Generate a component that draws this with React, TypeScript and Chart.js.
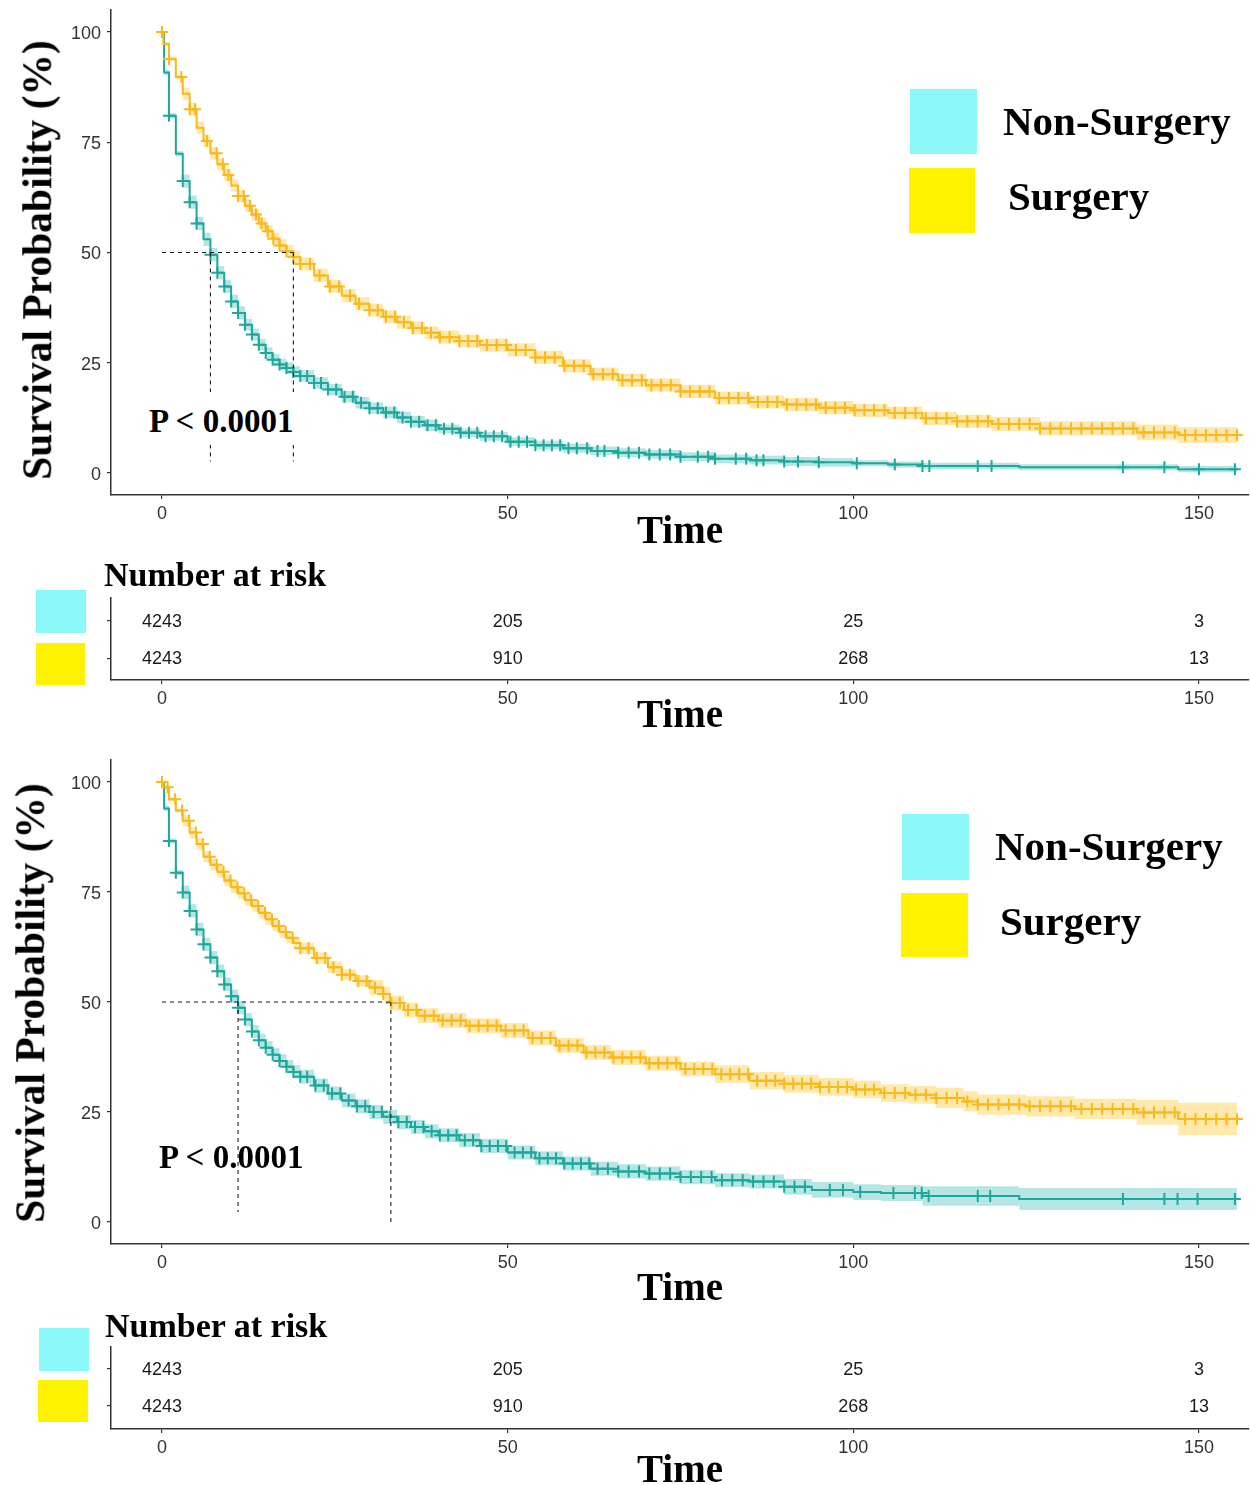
import React, { useEffect, useRef } from "react";
import { Chart, registerables } from "chart.js";

Chart.register(...registerables);

// ---------------- data ----------------
const X_TICKS = [0, 50, 100, 150];
const Y_TICKS = [0, 25, 50, 75, 100];
const GROUP_LABELS = ["Non-Surgery", "Surgery"];
const P_TEXT = "P < 0.0001";
const Y_TITLE = "Survival Probability (%)";
const RISK_TITLE = "Number at risk";
const RISK_TIMES = [0, 50, 100, 150];
const RISK_NON_SURGERY = [4243, 205, 25, 3];
const RISK_SURGERY = [4243, 910, 268, 13];

// Panel A (top)
const A_NS_TIME = [0, 0.3, 1, 2, 3, 4, 5, 6, 7, 8, 9, 10, 11, 12, 13, 14, 15, 16, 17, 18, 19, 20, 22, 24, 26, 28, 30, 32, 34, 36, 38, 40, 43, 46, 50, 54, 58, 62, 66, 70, 75, 80, 85, 90, 95, 100, 105, 110, 124, 147, 155.5];
const A_NS_SURV = [100, 90.8, 81.0, 72.4, 66.2, 61.4, 56.6, 53.0, 49.5, 45.4, 42.3, 38.9, 36.3, 33.6, 31.4, 29.1, 27.2, 25.7, 24.6, 23.8, 22.9, 22.0, 20.4, 18.9, 17.3, 15.9, 14.7, 13.7, 12.6, 11.6, 10.8, 10.0, 9.1, 8.3, 7.1, 6.3, 5.6, 5.0, 4.6, 4.2, 3.7, 3.2, 2.9, 2.6, 2.4, 2.2, 1.9, 1.6, 1.3, 0.85, 0.85];
const A_NS_CI_TIME = [0, 3, 12, 40, 100];
const A_NS_CI_HALF = [0.6, 1.5, 1.3, 1.0, 0.7];
const A_NS_CENSOR = [0, 1, 3, 4, 5, 7, 8, 9, 10, 11, 12, 13, 14, 15, 16, 17, 18, 19, 20, 21, 22, 23, 24, 25.2, 26.4, 27.6, 28.8, 30, 31.2, 32.4, 33.6, 34.8, 36, 37.2, 38.4, 39.6, 40.8, 42, 43.2, 44.4, 45.6, 46.8, 48, 49.2, 50.4, 51.6, 52.8, 54, 55.2, 56.4, 57.6, 58.8, 60, 61.5, 63, 64, 66, 67.5, 69, 70.5, 72, 73.5, 75, 77.5, 79, 80, 83, 84.5, 86, 87, 90, 92, 95, 100.5, 106, 110, 111, 118, 120, 139, 145, 150, 155.2];

const A_S_TIME = [0, 0.2, 1, 2, 3, 4, 5, 6, 7, 8, 9, 10, 11, 12, 13, 14, 15, 16, 17, 18, 19, 20, 22, 24, 26, 28, 30, 32, 34, 36, 38, 40, 43, 46, 50, 54, 58, 62, 66, 70, 75, 80, 85, 90, 95, 100, 105, 110, 115, 120, 127, 141, 147, 155.5];
const A_S_SURV = [100, 97.3, 93.9, 89.8, 86.0, 82.5, 78.3, 75.3, 72.5, 70.0, 67.6, 65.2, 62.8, 60.6, 58.6, 56.6, 54.8, 53.1, 51.6, 50.3, 49.0, 47.4, 44.8, 42.3, 40.2, 38.4, 36.9, 35.4, 34.2, 32.9, 31.8, 30.8, 29.9, 29.0, 27.9, 26.2, 24.3, 22.4, 21.0, 19.9, 18.5, 17.0, 16.1, 15.5, 14.8, 14.2, 13.6, 12.4, 11.7, 11.1, 10.1, 9.2, 8.6, 8.6];
const A_S_CI_TIME = [0, 3, 20, 60, 120, 141];
const A_S_CI_HALF = [0.5, 1.4, 1.5, 1.5, 1.6, 1.8];
const A_S_CENSOR = [0, 1, 2.8, 4, 4.8, 6.5, 7.9, 8.8, 9.6, 11, 11.8, 12.7, 13.6, 14.4, 15.3, 16.1, 17, 18, 19, 20, 21.4, 22.8, 24.3, 25.6, 27.2, 28.5, 30, 31.2, 32.4, 33.7, 35, 36.3, 37.6, 38.9, 40.2, 41.6, 43, 44.3, 45.6, 47, 48.4, 49.8, 51.2, 52.6, 54, 55.4, 56.8, 58.2, 59.6, 61, 62.4, 63.8, 65.2, 66.6, 68, 69.4, 70.8, 72.2, 73.6, 75, 76.4, 77.8, 79.2, 80.6, 82, 83.4, 84.8, 86.2, 87.6, 89, 90.4, 91.8, 93.2, 94.6, 96, 97.4, 98.8, 100.2, 101.6, 103, 104.5, 106, 107.5, 109, 110.5, 112, 113.5, 115, 116.5, 118, 119.5, 121, 122.5, 124, 125.5, 127, 128.5, 130, 131.5, 133, 134.5, 136, 137.5, 139, 140.5, 142, 143.5, 145, 146.5, 148, 149.5, 151, 152.5, 154, 155.5];
const A_MEDIANS = [7, 19];
const A_MEDIAN_FLOOR = [2.6, 2.6];

// Panel B (bottom)
const B_NS_TIME = [0, 0.3, 1, 2, 3, 4, 5, 6, 7, 8, 9, 10, 11, 12, 13, 14, 15, 16, 17, 18, 19, 20, 22, 24, 26, 28, 30, 32, 34, 36, 38, 40, 43, 46, 50, 54, 58, 62, 66, 70, 75, 80, 85, 90, 94, 100, 104, 110, 124, 155.5];
const B_NS_SURV = [100, 94.0, 86.6, 79.4, 74.9, 70.7, 66.5, 63.1, 60.1, 57.0, 54.0, 51.3, 48.7, 46.0, 43.3, 41.3, 39.6, 38.0, 36.6, 35.3, 34.1, 33.0, 31.0, 29.2, 27.6, 26.3, 25.0, 23.9, 22.7, 21.6, 20.6, 19.7, 18.6, 17.3, 15.8, 14.5, 13.3, 12.1, 11.5, 11.0, 10.2, 9.5, 9.2, 8.0, 7.3, 6.8, 6.6, 5.9, 5.2, 5.2];
const B_NS_CI_TIME = [0, 3, 20, 50, 90, 110, 124];
const B_NS_CI_HALF = [0.6, 1.5, 1.6, 1.6, 1.8, 2.2, 2.5];
const B_NS_CENSOR = [0, 1, 2, 3, 4, 5, 6, 7, 8, 9, 10, 11, 12, 13, 14, 15, 16, 17, 18, 19, 20, 21, 22.2, 23.4, 24.6, 25.8, 27, 28.2, 29.4, 30.6, 31.8, 33, 34.2, 35.4, 36.6, 37.8, 39, 40.2, 41.4, 42.6, 43.8, 45, 46.2, 47.4, 48.6, 49.8, 51, 52.2, 53.4, 54.6, 55.8, 57, 58.2, 59.4, 60.6, 61.8, 63, 64.5, 66, 67.5, 69, 70.5, 72, 73.5, 75, 76.5, 78, 79.5, 81, 82.5, 84, 85.5, 87, 88.5, 90, 91.5, 93, 96.6, 98.5, 101, 105.8, 108.9, 109.9, 110.9, 118, 119.8, 139, 145, 146.9, 149.8, 155.2];

const B_S_TIME = [0, 0.2, 1, 2, 3, 4, 5, 6, 7, 8, 9, 10, 11, 12, 13, 14, 15, 16, 17, 18, 19, 20, 22, 24, 26, 28, 30, 32, 33, 35, 37, 40, 44, 49, 53, 57, 61, 65, 70, 75, 80, 85, 90, 95, 100, 104, 108, 112, 116, 118, 125, 132, 141, 147, 155.5];
const B_S_SURV = [100, 98.8, 96.1, 93.5, 91.2, 88.5, 85.9, 83.0, 81.2, 79.6, 77.6, 76.1, 74.7, 73.2, 71.8, 70.3, 68.8, 67.3, 65.9, 64.6, 63.4, 62.2, 60.0, 57.9, 56.2, 54.8, 53.3, 51.8, 49.8, 48.2, 46.9, 45.8, 44.6, 43.5, 41.8, 40.1, 38.5, 37.4, 36.1, 34.8, 33.6, 32.1, 31.4, 30.7, 30.1, 29.3, 28.9, 28.2, 27.4, 26.7, 26.3, 25.7, 24.9, 23.4, 23.4];
const B_S_CI_TIME = [0, 3, 30, 80, 110, 141, 147];
const B_S_CI_HALF = [0.4, 1.3, 1.7, 2.0, 2.3, 2.8, 3.7];
const B_S_CENSOR = [0, 0.8, 1.9, 2.9, 3.9, 4.9, 5.9, 6.9, 7.9, 8.9, 9.9, 10.9, 11.9, 12.9, 13.9, 14.9, 15.9, 16.9, 17.9, 18.9, 20, 21.2, 22.4, 23.6, 24.8, 26, 27.2, 28.4, 29.6, 30.8, 32, 33.2, 34.4, 35.6, 36.8, 38, 39.3, 40.6, 41.9, 43.2, 44.5, 45.8, 47.1, 48.4, 49.7, 51, 52.3, 53.6, 54.9, 56.2, 57.5, 58.8, 60.1, 61.4, 62.7, 64, 65.3, 66.6, 67.9, 69.2, 70.5, 71.8, 73.1, 74.4, 75.7, 77, 78.3, 79.6, 80.9, 82.2, 83.5, 84.8, 86.1, 87.4, 88.7, 90, 91.3, 92.6, 93.9, 95.2, 96.5, 97.8, 99.1, 100.4, 101.7, 103, 104.5, 106, 107.5, 109, 110.5, 112, 113.5, 115, 116.5, 118, 119.5, 121, 122.5, 124, 125.5, 127, 128.5, 130, 131.5, 133, 134.5, 136, 137.5, 139, 140.5, 142, 143.5, 145, 146.5, 148, 149.5, 151, 152.5, 154, 155.5];
const B_MEDIANS = [11, 33.1];
const B_MEDIAN_FLOOR = [2.3, 0];

// ---------------- styles ----------------
const SERIF = '"Liberation Serif", "Times New Roman", serif';
const SANS = '"Liberation Sans", Arial, sans-serif';
const LINE_NS = "#1ea89c";
const LINE_S = "#fbb818";
const BAND_NS = "rgba(40,182,172,0.34)";
const BAND_S = "rgba(253,205,70,0.45)";
const KEY_NS = "#8af8f8";
const KEY_S = "#fff200";
const AXIS = "#333333";
const X_MIN = -7.38;
const X_MAX = 157.24;

type Curve = { t: number[]; s: number[]; ciT: number[]; ciH: number[]; cens: number[] };

function stepAt(t: number[], v: number[], x: number) {
  let r = v[0];
  for (let i = 0; i < t.length; i++) {
    if (t[i] <= x) r = v[i];
    else break;
  }
  return r;
}

const zeroPad = (s: any) => {
  s.paddingTop = 0;
  s.paddingBottom = 0;
  s.paddingLeft = 0;
  s.paddingRight = 0;
};

function xScale(height: number, titlePad: number) {
  return {
    type: "linear",
    min: X_MIN,
    max: X_MAX,
    afterBuildTicks: (s: any) => {
      s.ticks = X_TICKS.map((v) => ({ value: v }));
    },
    afterFit: (s: any) => {
      s.height = height;
      zeroPad(s);
    },
    grid: { display: true, drawOnChartArea: false, drawTicks: true, tickLength: 4, color: AXIS, lineWidth: 1.2 },
    border: { display: true, color: AXIS, width: 1.5 },
    ticks: { padding: 6, color: "#333", font: { family: SANS, size: 18, lineHeight: 1 }, maxRotation: 0, autoSkip: false },
    title: {
      display: true,
      text: "Time",
      color: "#000",
      font: { family: SERIF, size: 39, weight: "bold", lineHeight: 0.8 },
      padding: { top: 0, bottom: titlePad },
    },
  };
}

type KMLayout = { top: number; h: number; padTop: number; padBottom: number; xH: number; xTitlePad: number };

function kmConfig(L: KMLayout, ns: Curve, sg: Curve, med: number[], floor: number[]) {
  const band = (c: Curve, upper: boolean, color: string) => ({
    data: c.t.map((x, i) => {
      const hw = stepAt(c.ciT, c.ciH, x);
      return { x, y: upper ? Math.min(100, c.s[i] + hw) : Math.max(0, c.s[i] - hw) };
    }),
    stepped: true,
    borderColor: "rgba(0,0,0,0)",
    borderWidth: 0,
    pointRadius: 0,
    fill: upper ? false : "-1",
    backgroundColor: color,
    order: 10,
  });
  const line = (c: Curve, color: string) => ({
    data: c.t.map((x, i) => ({ x, y: c.s[i] })),
    stepped: true,
    borderColor: color,
    borderWidth: 2,
    pointRadius: 0,
    fill: false,
    order: 5,
  });
  const marks = (c: Curve, color: string) => ({
    data: c.cens.map((x) => ({ x, y: stepAt(c.t, c.s, x) })),
    showLine: false,
    pointStyle: "cross",
    pointRadius: 6,
    pointBorderWidth: 2,
    pointBorderColor: color,
    pointBackgroundColor: color,
    order: 4,
  });
  const dash = (pts: { x: number; y: number }[]) => ({
    data: pts,
    borderColor: "#1a1a1a",
    borderWidth: 1.1,
    borderDash: [4, 4],
    pointRadius: 0,
    fill: false,
    order: 1,
  });
  return {
    type: "line",
    data: {
      datasets: [
        band(ns, true, BAND_NS),
        band(ns, false, BAND_NS),
        band(sg, true, BAND_S),
        band(sg, false, BAND_S),
        line(sg, LINE_S),
        line(ns, LINE_NS),
        marks(sg, LINE_S),
        marks(ns, LINE_NS),
        dash([
          { x: 0, y: 50 },
          { x: med[1], y: 50 },
        ]),
        dash([
          { x: med[0], y: 50 },
          { x: med[0], y: floor[0] },
        ]),
        dash([
          { x: med[1], y: 50 },
          { x: med[1], y: floor[1] },
        ]),
      ],
    },
    options: {
      animation: false,
      responsive: false,
      maintainAspectRatio: false,
      events: [],
      layout: { autoPadding: false, padding: { left: 0, right: 1, top: L.padTop, bottom: L.padBottom } },
      plugins: { legend: { display: false }, tooltip: { enabled: false } },
      scales: {
        x: xScale(L.xH, L.xTitlePad),
        y: {
          type: "linear",
          min: -5,
          max: 105,
          afterBuildTicks: (s: any) => {
            s.ticks = Y_TICKS.map((v) => ({ value: v }));
          },
          afterFit: (s: any) => {
            s.width = 111;
            zeroPad(s);
          },
          grid: { display: true, drawOnChartArea: false, drawTicks: true, tickLength: 4, color: AXIS, lineWidth: 1.2 },
          border: { display: true, color: AXIS, width: 1.5 },
          ticks: { padding: 6, labelOffset: 2, color: "#333", font: { family: SANS, size: 18, lineHeight: 1 } },
        },
      },
    },
  };
}

type RiskLayout = { top: number; h: number; padTop: number; padBottom: number; xH: number; xTitlePad: number; yMin: number; yMax: number };

const riskTextPlugin = {
  id: "riskText",
  afterDatasetsDraw(chart: any) {
    const { ctx } = chart;
    const rows = [RISK_NON_SURGERY, RISK_SURGERY];
    ctx.save();
    ctx.font = `18px ${SANS}`;
    ctx.fillStyle = "#1a1a1a";
    ctx.textAlign = "center";
    ctx.textBaseline = "middle";
    rows.forEach((row, di) => {
      const meta = chart.getDatasetMeta(di);
      meta.data.forEach((el: any, j: number) => {
        ctx.fillText(String(row[j]), el.x, el.y + 1);
      });
    });
    ctx.restore();
  },
};

function riskConfig(L: RiskLayout) {
  return {
    type: "line",
    data: {
      datasets: [
        { data: RISK_TIMES.map((t) => ({ x: t, y: 2 })), showLine: false, pointRadius: 0 },
        { data: RISK_TIMES.map((t) => ({ x: t, y: 1 })), showLine: false, pointRadius: 0 },
      ],
    },
    options: {
      animation: false,
      responsive: false,
      maintainAspectRatio: false,
      events: [],
      layout: { autoPadding: false, padding: { left: 0, right: 1, top: L.padTop, bottom: L.padBottom } },
      plugins: { legend: { display: false }, tooltip: { enabled: false } },
      scales: {
        x: xScale(L.xH, L.xTitlePad),
        y: {
          type: "linear",
          min: L.yMin,
          max: L.yMax,
          afterBuildTicks: (s: any) => {
            s.ticks = [{ value: 1 }, { value: 2 }];
          },
          afterFit: (s: any) => {
            s.width = 111;
            zeroPad(s);
          },
          grid: { display: true, drawOnChartArea: false, drawTicks: true, tickLength: 4, color: AXIS, lineWidth: 1.2 },
          border: { display: true, color: AXIS, width: 1.5 },
          ticks: { padding: 6, callback: () => "", font: { size: 10, lineHeight: 1 } },
        },
      },
    },
    plugins: [riskTextPlugin],
  };
}

function ChartCanvas({ top, h, config }: { top: number; h: number; config: any }) {
  const ref = useRef<HTMLCanvasElement>(null);
  useEffect(() => {
    const chart = new Chart(ref.current as HTMLCanvasElement, config);
    return () => chart.destroy();
  }, []);
  return (
    <canvas
      ref={ref}
      width={1250}
      height={h}
      style={{ position: "absolute", left: 0, top, width: 1250, height: h, display: "block" }}
    />
  );
}

function Txt({ x, base, size, text }: { x: number; base: number; size: number; text: string }) {
  return (
    <div
      style={{
        position: "absolute",
        left: x,
        top: base - 0.8375 * size,
        fontFamily: SERIF,
        fontWeight: "bold",
        fontSize: size,
        lineHeight: `${size}px`,
        whiteSpace: "nowrap",
        color: "#000",
      }}
    >
      {text}
    </div>
  );
}

function VTitle({ cx, cy, size, text }: { cx: number; cy: number; size: number; text: string }) {
  return (
    <div
      style={{
        position: "absolute",
        left: cx,
        top: cy,
        transform: "translate(-50%, -50%) rotate(-90deg)",
        fontFamily: SERIF,
        fontWeight: "bold",
        fontSize: size,
        lineHeight: `${size}px`,
        whiteSpace: "nowrap",
        color: "#000",
      }}
    >
      {text}
    </div>
  );
}

function Box({ x, y, w, h, color }: { x: number; y: number; w: number; h: number; color: string }) {
  return <div style={{ position: "absolute", left: x, top: y, width: w, height: h, background: color }} />;
}

const curveA_NS: Curve = { t: A_NS_TIME, s: A_NS_SURV, ciT: A_NS_CI_TIME, ciH: A_NS_CI_HALF, cens: A_NS_CENSOR };
const curveA_S: Curve = { t: A_S_TIME, s: A_S_SURV, ciT: A_S_CI_TIME, ciH: A_S_CI_HALF, cens: A_S_CENSOR };
const curveB_NS: Curve = { t: B_NS_TIME, s: B_NS_SURV, ciT: B_NS_CI_TIME, ciH: B_NS_CI_HALF, cens: B_NS_CENSOR };
const curveB_S: Curve = { t: B_S_TIME, s: B_S_SURV, ciT: B_S_CI_TIME, ciH: B_S_CI_HALF, cens: B_S_CENSOR };

const LAYOUT_A: KMLayout = { top: 0, h: 560, padTop: 10, padBottom: 9, xH: 56, xTitlePad: 2.4 };
const LAYOUT_RA: RiskLayout = { top: 560, h: 180, padTop: 38, padBottom: 4, xH: 56, xTitlePad: 3.4, yMin: 0.418, yMax: 2.617 };
const LAYOUT_B: KMLayout = { top: 740, h: 570, padTop: 20, padBottom: 3, xH: 63, xTitlePad: 1.4 };
const LAYOUT_RB: RiskLayout = { top: 1310, h: 178, padTop: 37, padBottom: 0, xH: 59, xTitlePad: 0.4, yMin: 0.365, yMax: 2.6 };

export default function App() {
  return (
    <div style={{ position: "absolute", left: 0, top: 0, width: 1250, height: 1485, background: "#fff", overflow: "hidden" }}>
      <ChartCanvas top={LAYOUT_A.top} h={LAYOUT_A.h} config={kmConfig(LAYOUT_A, curveA_NS, curveA_S, A_MEDIANS, A_MEDIAN_FLOOR)} />
      <ChartCanvas top={LAYOUT_RA.top} h={LAYOUT_RA.h} config={riskConfig(LAYOUT_RA)} />
      <ChartCanvas top={LAYOUT_B.top} h={LAYOUT_B.h} config={kmConfig(LAYOUT_B, curveB_NS, curveB_S, B_MEDIANS, B_MEDIAN_FLOOR)} />
      <ChartCanvas top={LAYOUT_RB.top} h={LAYOUT_RB.h} config={riskConfig(LAYOUT_RB)} />

      <VTitle cx={38} cy={260} size={41.5} text={Y_TITLE} />
      <VTitle cx={31} cy={1003} size={41.5} text={Y_TITLE} />

      {/* Panel A legend */}
      <Box x={910} y={89} w={67} h={65} color={KEY_NS} />
      <Box x={909} y={168} w={66} h={65} color={KEY_S} />
      <Txt x={1003} base={135} size={41} text={GROUP_LABELS[0]} />
      <Txt x={1008} base={210} size={41} text={GROUP_LABELS[1]} />
      {/* Panel A p-value (label box masks dashed lines) */}
      <Box x={145} y={392} w={154} h={53} color="#fff" />
      <Txt x={149} base={433} size={33} text={P_TEXT} />
      {/* Risk table A */}
      <Txt x={104} base={586} size={34} text={RISK_TITLE} />
      <Box x={36} y={590} w={50} h={43} color={KEY_NS} />
      <Box x={36} y={643} w={49} h={42} color={KEY_S} />

      {/* Panel B legend */}
      <Box x={902} y={814} w={67} h={66} color={KEY_NS} />
      <Box x={901} y={893} w={67} h={64} color={KEY_S} />
      <Txt x={995} base={860} size={41} text={GROUP_LABELS[0]} />
      <Txt x={1000} base={935} size={41} text={GROUP_LABELS[1]} />
      <Txt x={159} base={1169} size={33} text={P_TEXT} />
      {/* Risk table B */}
      <Txt x={105} base={1337} size={34} text={RISK_TITLE} />
      <Box x={39} y={1328} w={50} h={43} color={KEY_NS} />
      <Box x={38} y={1380} w={50} h={42} color={KEY_S} />
    </div>
  );
}
